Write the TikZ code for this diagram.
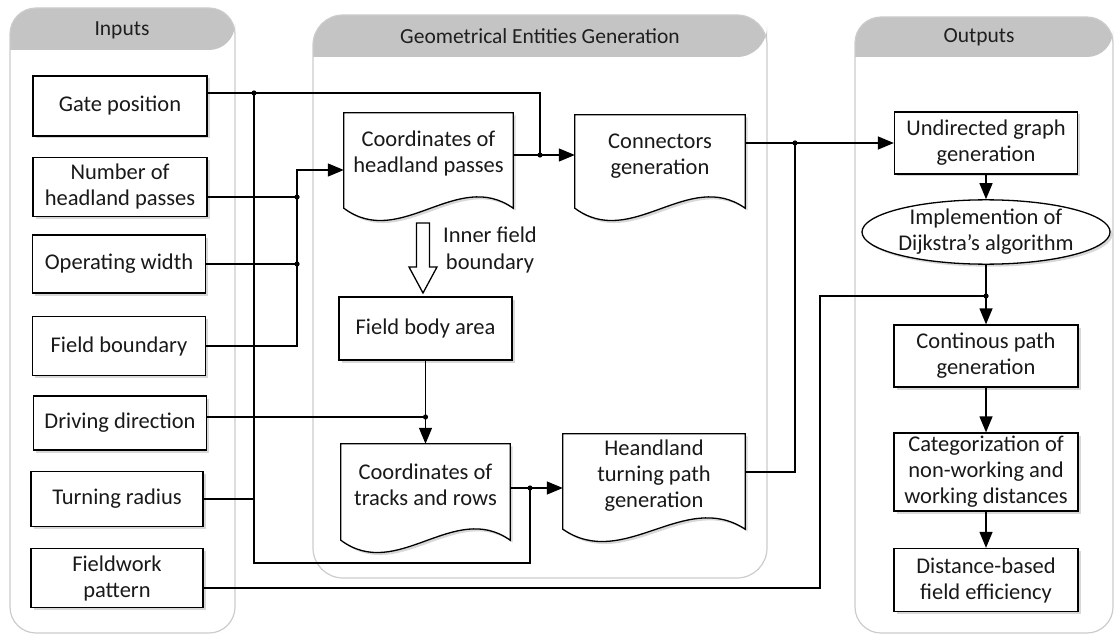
\documentclass[tikz,border=0pt]{standalone}
\usepackage{fontspec}
\setmainfont{Carlito}
\usetikzlibrary{arrows.meta,shadows,calc,shapes.geometric}
\pgfdeclarelayer{doc}
\pgfsetlayers{doc,main}
\tikzset{
  shad/.style={drop shadow={shadow xshift=2.5pt,shadow yshift=-2.5pt,opacity=0.3}},
  box/.style={draw=black, line width=1.3pt, fill=white, align=center, inner sep=0pt,
    font=\fontsize{22.5}{26}\selectfont, text=black!90, shad},
  doctext/.style={align=center, inner sep=0pt, font=\fontsize{22.5}{26}\selectfont, text=black!90},
  docline/.style={draw=black, line width=1.3pt, fill=white, shad},
  panelline/.style={draw=black!20, line width=1.2pt, rounded corners=26pt},
  hdr/.style={fill=black!23},
  title/.style={font=\fontsize{21.5}{24}\selectfont, text=black!88},
  lbl/.style={align=center, font=\fontsize{22.5}{26}\selectfont, text=black!90},
  conn/.style={line width=1.3pt, draw=black},
  arr/.style={conn, -{Triangle[length=16pt,width=13pt]}},
}
\newcommand\docshape[2]{%
  \coordinate (#1-se) at ([yshift=-#2]#1.south east);
  \coordinate (#1-sw) at ([yshift=-#2]#1.south west);
  \begin{pgfonlayer}{doc}
  \draw[docline] (#1.north west) -- (#1.north east) -- (#1-se)
    .. controls ($(#1-se)!0.333!(#1-sw)+(0,-40)$) and ($(#1-se)!0.667!(#1-sw)+(0,42)$)
    .. (#1-sw) -- cycle;
  \end{pgfonlayer}}
\newcommand\dotat[1]{\fill (#1) circle (2.6pt);}
\begin{document}
\begin{tikzpicture}[x=1pt,y=-1pt]
\useasboundingbox (0,0) rectangle (1115,639);
\clip (0,0) rectangle (1115,639);
\begin{pgfonlayer}{doc}
% Inputs panel
\fill[white, rounded corners=26pt] (10,8) rectangle (235,633);
\fill[hdr] {[rounded corners=26pt] (10,50) -- (10,8) -- (235,8) -- (235,50)} -- cycle;
\draw[panelline] (10,8) rectangle (235,633);
% Middle panel
\fill[white, rounded corners=30pt] (313,15) rectangle (767,578);
\fill[hdr] {[rounded corners=30pt] (313,57) -- (313,15) -- (767,15) -- (767,57)} -- cycle;
\draw[panelline, rounded corners=30pt] (313,15) rectangle (767,578);
% Outputs panel
\fill[white, rounded corners=26pt] (855,17) rectangle (1113,633);
\fill[hdr] {[rounded corners=26pt] (855,57) -- (855,17) -- (1113,17) -- (1113,57)} -- cycle;
\draw[panelline] (855,17) rectangle (1113,633);
\end{pgfonlayer}
\node[title] (tin) at (122,30) {Inputs};
\node[title] (tgeo) at (540,36) {Geometrical Entities Generation};
\node[title] (tout) at (979,37) {Outputs};

% Inputs
\node[box, minimum width=174pt, minimum height=60pt] (gate) at (120,106) {Gate position};
\node[box, minimum width=174pt, minimum height=59pt] (nhp) at (120,187) {Number of\\headland passes};
\node[box, minimum width=173pt, minimum height=58pt] (ow) at (119,264) {Operating width};
\node[box, minimum width=173pt, minimum height=59pt] (fb) at (119,346) {Field boundary};
\node[box, minimum width=173pt, minimum height=54pt] (dd) at (120,423) {Driving direction};
\node[box, minimum width=172pt, minimum height=55pt] (tr) at (117,499) {Turning radius};
\node[box, minimum width=172pt, minimum height=59pt] (fp) at (117,578) {Fieldwork\\pattern};

% Middle
\node[doctext, minimum width=169pt, minimum height=82pt] (chp) at (428.5,154) {Coordinates of\\headland passes};
\docshape{chp}{13pt}
\node[doctext, minimum width=170pt, minimum height=82pt] (cg) at (660,156) {Connectors\\generation};
\docshape{cg}{11pt}
\node[box, minimum width=173pt, minimum height=63pt] (fba) at (425.5,328.5) {Field body area};
\node[doctext, minimum width=169pt, minimum height=82pt] (ctr) at (425.5,485) {Coordinates of\\tracks and rows};
\docshape{ctr}{14pt}
\node[doctext, minimum width=182pt, minimum height=84pt] (htp) at (654,476) {Heandland\\turning path\\generation};
\docshape{htp}{11pt}

% hollow arrow
\draw[line width=1.3pt, fill=white, line join=miter] (416.5,223) -- (429.5,223) -- (429.5,267) -- (437,267) -- (423,293) -- (409,267) -- (416.5,267) -- cycle;
\node[lbl] (ifb) at (490,250) {Inner field\\boundary};

% Outputs
\node[box, minimum width=183pt, minimum height=62pt] (ug) at (986,143) {Undirected graph\\generation};
\node[box, ellipse, minimum width=218pt, minimum height=63pt] (dij) at (986,232) {Implemention of\\Dijkstra’s algorithm};
\node[box, minimum width=184pt, minimum height=62pt] (cp) at (986,356) {Continous path\\generation};
\node[box, minimum width=184pt, minimum height=78pt] (cat) at (986,472) {Categorization of\\non-working and\\working distances};
\node[box, minimum width=184pt, minimum height=63pt] (dbf) at (986,580) {Distance-based\\field efficiency};

% Connectors
\coordinate (j1) at (254,93);
\coordinate (j2) at (540,155);
\coordinate (j3) at (530,488);
\coordinate (b1) at (254,563);
\draw[conn] (gate.east|-j1) -- (j2|-j1) -- (j2);
\draw[arr] (chp.east|-j2) -- (cg.west|-j2);
\draw[conn] (j1) -- (b1) -| (j3);
\draw[arr] (ctr.east|-j3) -- (htp.west|-j3);
\draw[conn] (tr.east) -- (tr.east-|j1);
\dotat{j1}\dotat{j2}\dotat{j3}

\coordinate (j4) at (297,197);
\coordinate (k) at (297,170);
\coordinate (j4b) at (297,264);
\draw[conn] (nhp.east|-j4) -- (j4);
\draw[conn] (ow.east) -- (j4b);
\draw[arr] (fb.east) -| (k) -- (chp.west|-k);
\dotat{j4}\dotat{j4b}

\coordinate (j5) at (425.5,417);
\draw[conn] (dd.east|-j5) -- (j5);
\draw[arr] (fba.south) -- (ctr.north);
\dotat{j5}

\coordinate (j6) at (986,296);
\coordinate (b2) at (820,588);
\draw[conn] (fp.east|-b2) -- (b2) |- (j6);
\draw[arr] (dij.south) -- (cp.north);
\dotat{j6}

\coordinate (j7) at (795,143);
\coordinate (j8) at (795,472);
\draw[conn] (cg.east|-j7) -- (j7);
\draw[arr] (j7) -- (ug.west|-j7);
\draw[conn] (j7) -- (j8) -- (htp.east|-j8);
\dotat{j7}

\draw[arr] (ug.south) -- (dij.north);
\draw[arr] (cp.south) -- (cat.north);
\draw[arr] (cat.south) -- (dbf.north);
\end{tikzpicture}
\end{document}
